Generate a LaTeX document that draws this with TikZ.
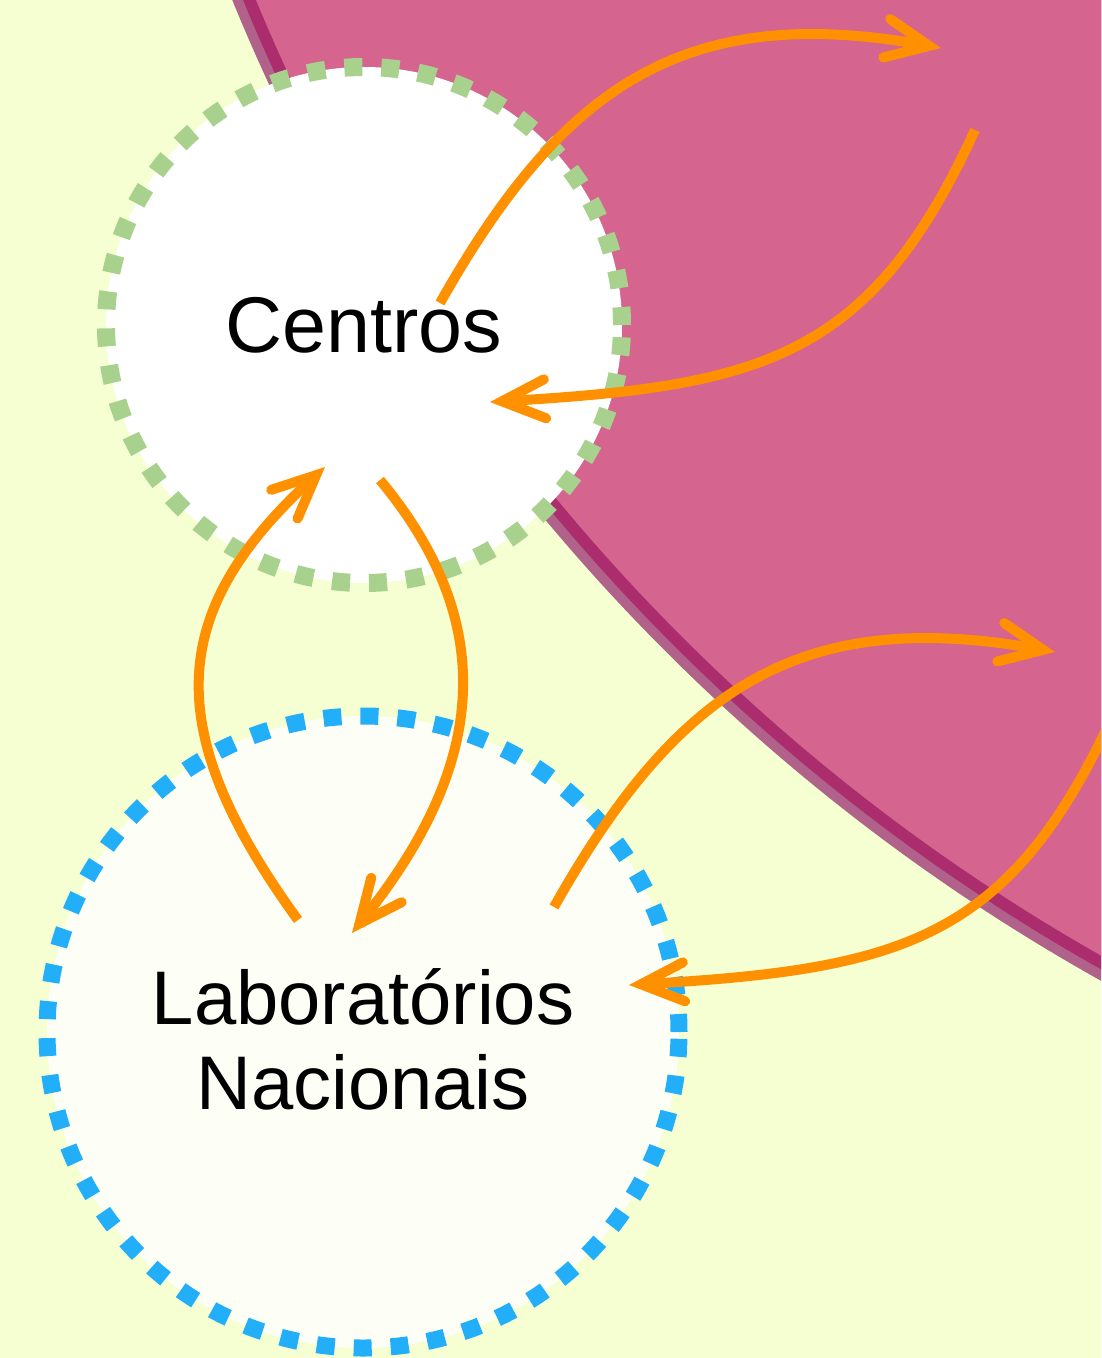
\documentclass[tikz,border=0pt]{standalone}
\usepackage{fontspec}
\setmainfont{Liberation Sans}
\usetikzlibrary{arrows.meta,calc}
\definecolor{bgc}{HTML}{F5FFD1}
\definecolor{pinkc}{HTML}{D5648F}
\definecolor{darkband}{HTML}{AB2D6E}
\definecolor{lightband}{HTML}{B0628A}
\definecolor{greenc}{HTML}{A9D18E}
\definecolor{bluec}{HTML}{22AEF9}
\definecolor{orangec}{HTML}{FF9100}
\definecolor{labsfill}{HTML}{FDFFF7}
\begin{document}
\begin{tikzpicture}[x=1pt,y=-1pt,
  lbl/.style={text=black, align=center},
  centrosring/.style={circle, inner sep=0pt, outer sep=0pt, minimum size=516pt,
    draw=greenc, fill=white, line width=18pt, dash pattern=on 18pt off 19pt},
  labsring/.style={circle, inner sep=0pt, outer sep=0pt, minimum size=632pt,
    draw=bluec, fill=labsfill, line width=17pt, dash pattern=on 18pt off 19pt},
  flow/.style={draw=orangec, line width=10pt,
    -{Straight Barb[length=43pt,width=39pt,line cap=round,line join=miter]}}]
\useasboundingbox (0,0) rectangle (1101,1358);
\clip (0,0) rectangle (1101,1358);
\fill[bgc] (0,0) rectangle (1101,1358);
% big off-page region
\coordinate (bigc) at (2065,-748);
\fill[lightband] (bigc) circle[radius=1979pt];
\fill[darkband] (bigc) circle[radius=1969pt];
\fill[pinkc] (bigc) circle[radius=1957pt];
% circles
\node[centrosring, lbl, font=\fontsize{79}{85}\selectfont] (centros) at (364,325) {Centros};
\node[labsring, lbl, font=\fontsize{76}{85}\selectfont] (labs) at (363,1032)
  {\rule{0pt}{70pt}Laboratórios\\Nacionais};
% connector end points
\coordinate (a1s) at ($(centros.center)+(76,-22)$);
\coordinate (a1e) at (941,48);
\coordinate (a2s) at (975,130);
\coordinate (a2e) at ($(centros.center)+(126,77)$);
\coordinate (a3s) at ($(centros.center)+(16,155)$);
\coordinate (a3e) at ($(labs.center)+(-11,-99)$);
\coordinate (a4s) at ($(labs.center)+(-65,-112)$);
\coordinate (a4e) at ($(centros.center)+(-39,142)$);
\coordinate (a5s) at ($(labs.center)+(191,-125)$);
\coordinate (a5e) at (1055,652);
\coordinate (a6s) at (1114,713);
\coordinate (a6e) at ($(labs.center)+(266,-47)$);
% connectors
\draw[flow] (a1s) .. controls +(123,-218) and +(-256,-46) .. (a1e);
\draw[flow] (a2s) .. controls +(-104,227) and +(275,-16) .. (a2e);
\draw[flow] (a3s) .. controls +(128,154) and +(125,-156) .. (a3e);
\draw[flow] (a4s) .. controls +(-141,-194) and +(-155,142) .. (a4e);
\draw[flow] (a5s) .. controls +(123,-218) and +(-256,-46) .. (a5e);
\draw[flow] (a6s) .. controls +(-104,227) and +(275,-16) .. (a6e);
\end{tikzpicture}
\end{document}
